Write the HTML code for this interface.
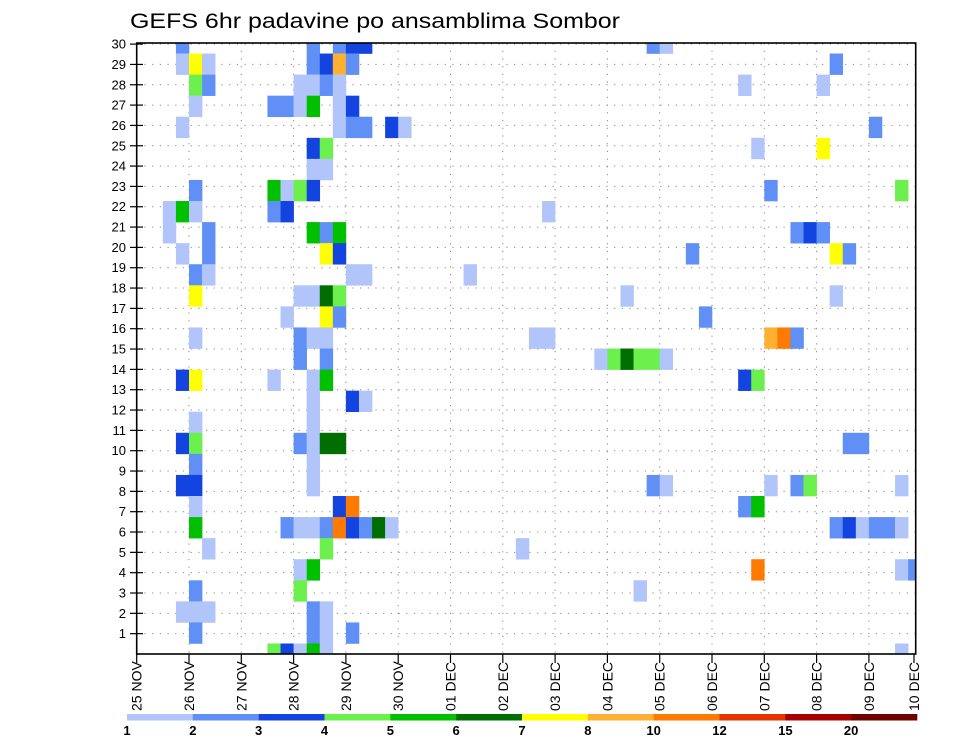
<!DOCTYPE html>
<html><head><meta charset="utf-8"><style>
html,body{margin:0;padding:0;background:#fff;}
svg{display:block;font-family:"Liberation Sans",sans-serif;}
</style></head><body>
<svg id="chart" width="960" height="742" viewBox="0 0 960 742">
<defs><clipPath id="plotclip"><rect x="136.7" y="43" width="779" height="611"/></clipPath></defs>
<text x="130" y="28" font-size="21" textLength="490" lengthAdjust="spacingAndGlyphs">GEFS 6hr padavine po ansamblima Sombor</text>
<g id="grid"></g>
<g id="cells" clip-path="url(#plotclip)"></g>
<rect x="136.7" y="43" width="779" height="611" fill="none" stroke="#000" stroke-width="1.6"/>
<g id="yaxis"></g>
<g id="xaxis"></g>
<g id="legend"></g>
</svg>
<script>
const dayLabels = ["25 NOV","26 NOV","27 NOV","28 NOV","29 NOV","30 NOV","01 DEC","02 DEC","03 DEC","04 DEC","05 DEC","06 DEC","07 DEC","08 DEC","09 DEC","10 DEC"];
const memberLabels = [1,2,3,4,5,6,7,8,9,10,11,12,13,14,15,16,17,18,19,20,21,22,23,24,25,26,27,28,29,30];
const levelLabels = ["1","2","3","4","5","6","7","8","10","12","15","20"];
const levelColors = ["#b1c5fa","#6090f6","#1444e0","#6cf04e","#00c000","#006e00","#ffff00","#ffb030","#ff7a00","#e63200","#a80000","#6e0000"];
// cell data: time step (6h index from 25 NOV 00z), member row (0 = top row), level class (1..12)
const cellTime = [
3,13,15,16,17,39,40,
3,4,5,13,14,15,16,53,
4,5,12,13,14,15,46,52,
4,10,11,12,13,15,16,
3,15,16,17,19,20,56,
13,14,47,52,
13,14,
4,10,11,12,13,48,58,
2,3,4,10,11,31,
2,5,13,14,15,50,51,52,
3,5,14,15,42,53,54,
4,5,16,17,25,
4,12,13,14,15,37,53,
11,14,15,43,
4,12,13,14,30,31,48,49,50,
12,14,35,36,37,38,39,40,
3,4,10,13,14,46,47,
13,16,17,
4,13,
3,4,12,13,14,15,54,55,
4,13,
3,4,13,39,40,48,50,51,58,
4,15,16,46,47,
4,11,12,13,14,15,16,17,18,19,53,54,55,56,57,58,
5,14,29,
12,13,47,58,59,
4,12,38,
3,4,5,13,14,
4,13,14,16,
10,11,12,13,14,58];
const cellMember = [
0,0,0,0,0,0,0,
1,1,1,1,1,1,1,1,
2,2,2,2,2,2,2,2,
3,3,3,3,3,3,3,
4,4,4,4,4,4,4,
5,5,5,5,
6,6,
7,7,7,7,7,7,7,
8,8,8,8,8,8,
9,9,9,9,9,9,9,9,
10,10,10,10,10,10,10,
11,11,11,11,11,
12,12,12,12,12,12,12,
13,13,13,13,
14,14,14,14,14,14,14,14,14,
15,15,15,15,15,15,15,15,
16,16,16,16,16,16,16,
17,17,17,
18,18,
19,19,19,19,19,19,19,19,
20,20,
21,21,21,21,21,21,21,21,21,
22,22,22,22,22,
23,23,23,23,23,23,23,23,23,23,23,23,23,23,23,23,
24,24,24,
25,25,25,25,25,
26,26,26,
27,27,27,27,27,
28,28,28,28,
29,29,29,29,29,29];
const cellLevel = [
2,2,2,3,3,2,1,
1,7,1,2,3,8,2,2,
4,2,1,1,2,1,1,1,
1,2,2,1,5,1,3,
1,1,2,2,3,1,2,
3,4,1,7,
1,1,
2,5,1,4,3,2,4,
1,5,1,2,3,1,
1,2,5,2,5,2,3,2,
1,2,7,3,2,7,2,
2,1,1,1,1,
7,1,1,6,4,1,1,
1,7,2,2,
1,2,1,1,1,1,8,9,2,
2,2,1,4,6,4,4,1,
3,7,1,1,5,3,4,
1,3,1,
1,1,
3,4,2,1,6,6,2,2,
2,1,
3,3,1,2,1,1,2,4,1,
1,3,9,2,5,
5,2,1,1,2,9,3,2,6,1,2,3,1,2,2,1,
1,4,1,
1,5,9,1,2,
2,4,1,
1,1,1,2,1,
2,2,1,2,
4,3,1,5,1,1];

const NS="http://www.w3.org/2000/svg";
const X0=136.7, X1=915.7, Y0=43, Y1=654;
const dayW=52.3, stepW=dayW/4;
const rowH=21.07;
function xDay(d){return X0+d*dayW;}
function xStep(t){return X0+t*stepW;}
function yRowCenter(r){return Y0+r*rowH;}
function yMember(k){return Y1-k*20.33;}
function mk(tag,attrs,parent){const e=document.createElementNS(NS,tag);for(const k in attrs)e.setAttribute(k,attrs[k]);parent.appendChild(e);return e;}

const grid=document.getElementById('grid');
memberLabels.forEach(function(k){
  const l=mk('line',{x1:X0,x2:X1,y1:yMember(k),y2:yMember(k),stroke:'#888','stroke-width':1,'stroke-dasharray':'1.2,6.5'},grid);
  
  
});
dayLabels.forEach(function(lab,i){
  if(i===0) return;
  const x=xDay(i); if(x>X1) return;
  const l=mk('line',{x1:x,x2:x,y1:Y0,y2:Y1,stroke:'#888','stroke-width':1,'stroke-dasharray':'1.2,6.5'},grid);
  
  
});

const cells=document.getElementById('cells');
for(let i=0;i<cellTime.length;i++){
  const x=xStep(cellTime[i]);
  const yc=yRowCenter(cellMember[i]);
  const r=mk('rect',{x:x,y:yc-rowH/2,width:stepW+0.3,height:rowH+0.3,fill:levelColors[cellLevel[i]-1]},cells);
  
  
}

const ya=document.getElementById('yaxis');
memberLabels.forEach(function(k){
  const y=yMember(k);
  mk('line',{x1:130,x2:143,y1:y,y2:y,stroke:'#000','stroke-width':1.2},ya);
  const t=mk('text',{x:126,y:y+4.5,'font-size':13,'text-anchor':'end'},ya);
  t.textContent=String(k);
  
  
});

const xa=document.getElementById('xaxis');
dayLabels.forEach(function(lab,i){
  let x=xDay(i); if(x>X1) x=914;
  mk('line',{x1:x,x2:x,y1:Y1,y2:Y1+9,stroke:'#000','stroke-width':1.2},xa);
  const t=mk('text',{x:0,y:0,'font-size':14,'text-anchor':'start',transform:'translate('+(x+5)+',711) rotate(-90)'},xa);
  t.textContent=lab;
  
  
});

const lg=document.getElementById('legend');
const LX0=127, LX1=917, segW=(LX1-LX0)/levelColors.length;
levelColors.forEach(function(c,i){
  const r=mk('rect',{x:LX0+i*segW,y:714,width:segW+0.3,height:6.5,fill:c},lg);
  
  
});
levelLabels.forEach(function(lab,i){
  const t=mk('text',{x:LX0+i*segW,y:735,'font-size':13,'font-weight':'bold','text-anchor':'middle'},lg);
  t.textContent=lab;
  
  
});
</script>
</body></html>
